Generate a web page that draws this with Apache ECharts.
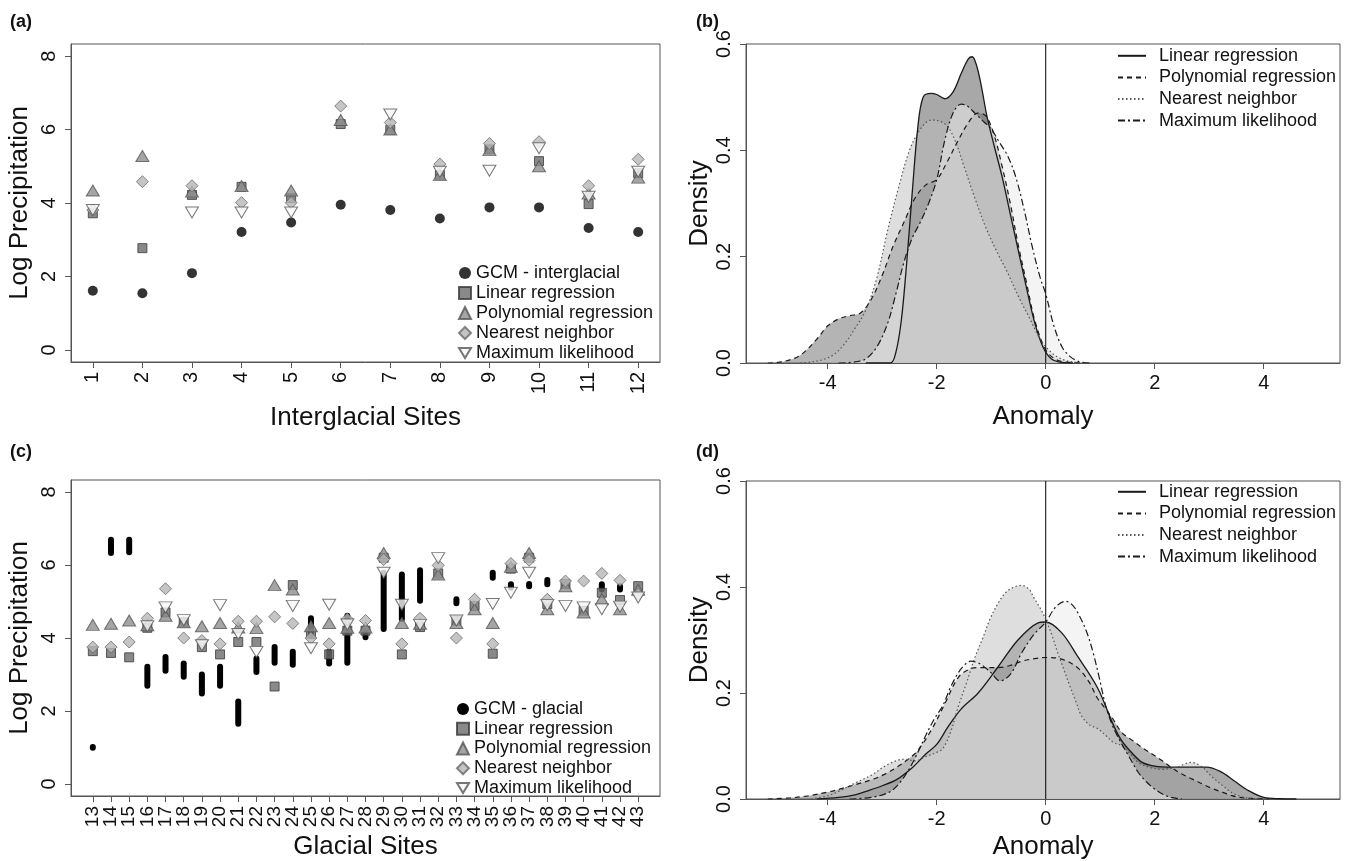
<!DOCTYPE html>
<html>
<head>
<meta charset="utf-8">
<script src="https://cdn.jsdelivr.net/npm/echarts@6/dist/echarts.min.js"></script>
<style>
html,body{margin:0;padding:0;background:#fff;}
#chart{width:1348px;height:861px;}
</style>
</head>
<body>
<div id="chart"></div>
<script>
// ---------- Panel (a): interglacial sites ----------
const sitesA = [1,2,3,4,5,6,7,8,9,10,11,12];
const gcmInter = [1.61,1.54,2.09,3.21,3.47,3.95,3.81,3.58,3.88,3.88,3.32,3.21];
const linA  = [3.72,2.77,4.22,4.44,4.13,6.15,5.99,4.76,5.46,5.14,3.97,4.81];
const polyA = [4.34,5.28,4.31,4.46,4.34,6.26,6.00,4.76,5.44,5.00,4.26,4.69];
const nnA   = [3.81,4.58,4.47,4.01,4.01,6.64,6.19,5.06,5.62,5.67,4.47,5.19];
const mlA   = [3.81,null,3.74,3.74,3.74,null,6.41,4.85,4.88,5.49,4.17,4.85];

// ---------- Panel (c): glacial sites ----------
const sitesC = [13,14,15,16,17,18,19,20,21,22,23,24,25,26,27,28,29,30,31,32,33,34,35,36,37,38,39,40,41,42,43];
const gcmLow  = [0.99,6.33,6.35,2.69,3.10,2.94,2.48,2.69,1.65,3.07,3.32,3.27,4.07,3.30,3.32,4.02,4.25,4.52,5.02,null,4.95,null,5.65,5.38,5.42,5.47,null,null,5.33,5.33,null];
const gcmHigh = [1.01,6.69,6.69,3.21,3.48,3.30,3.00,3.21,2.26,3.44,3.75,3.62,4.54,3.62,4.61,4.16,5.79,5.74,5.86,null,5.06,null,5.79,5.47,5.48,5.59,null,null,5.47,5.42,null];
const linC  = [3.64,3.59,3.47,4.28,4.70,4.43,3.75,3.55,3.89,3.89,2.67,5.45,4.11,3.55,4.20,4.20,6.20,3.55,4.30,5.77,4.48,4.88,3.57,5.90,6.20,4.93,5.48,4.75,5.24,5.04,5.42];
const polyC = [4.36,4.39,4.48,4.35,4.61,4.43,4.32,4.41,4.29,4.27,5.45,5.33,4.32,4.41,4.28,4.29,6.33,4.41,4.39,5.74,4.41,4.79,4.41,5.95,6.33,4.79,5.42,4.70,5.06,4.79,5.32];
const nnC   = [3.75,3.75,3.89,4.54,5.35,4.00,3.93,3.84,4.46,4.46,4.58,4.40,4.00,3.84,4.52,4.48,6.15,3.84,4.54,5.99,4.00,5.06,3.84,6.04,6.13,5.06,5.56,5.56,5.77,5.58,5.20];
const mlC   = [null,null,null,4.32,4.84,4.49,3.80,4.90,4.11,3.62,null,4.88,3.72,4.91,4.37,null,5.79,4.91,4.36,6.19,4.48,null,4.93,5.24,5.79,4.90,4.88,4.84,4.79,4.86,5.11];

// ---------- Panel (b): interglacial anomaly densities ----------
const bLinX  = [-3.3,-2.85,-2.75,-2.65,-2.55,-2.45,-2.35,-2.25,-2.1,-2.0,-1.85,-1.7,-1.55,-1.42,-1.35,-1.27,-1.18,-1.08,-0.95,-0.8,-0.65,-0.5,-0.35,-0.2,-0.05,0.1,0.3,0.5];
const bLinY  = [0,0,0.02,0.08,0.19,0.32,0.44,0.50,0.507,0.505,0.497,0.51,0.545,0.572,0.576,0.56,0.52,0.465,0.41,0.35,0.28,0.21,0.14,0.075,0.03,0.008,0.001,0];
const bPolyX = [-5.1,-4.8,-4.5,-4.2,-4.0,-3.8,-3.6,-3.4,-3.2,-3.0,-2.8,-2.6,-2.4,-2.2,-2.0,-1.8,-1.6,-1.4,-1.25,-1.1,-0.95,-0.8,-0.65,-0.5,-0.35,-0.2,0,0.2,0.45,0.7];
const bPolyY = [0,0.003,0.015,0.045,0.07,0.083,0.089,0.094,0.12,0.165,0.22,0.265,0.31,0.335,0.345,0.38,0.42,0.455,0.47,0.465,0.43,0.37,0.30,0.22,0.15,0.08,0.025,0.006,0.001,0];
const bNnX   = [-4.5,-4.3,-4.1,-3.9,-3.7,-3.5,-3.3,-3.1,-2.9,-2.7,-2.5,-2.3,-2.1,-1.95,-1.8,-1.65,-1.5,-1.3,-1.1,-0.9,-0.7,-0.5,-0.3,-0.1,0.1,0.3,0.5,0.7];
const bNnY   = [0,0.002,0.006,0.015,0.035,0.065,0.1,0.16,0.25,0.33,0.4,0.44,0.457,0.455,0.445,0.415,0.37,0.31,0.255,0.21,0.17,0.125,0.085,0.045,0.02,0.007,0.002,0];
const bMlX   = [-3.8,-3.5,-3.3,-3.1,-2.9,-2.75,-2.6,-2.45,-2.3,-2.15,-2.0,-1.85,-1.7,-1.55,-1.45,-1.3,-1.15,-1.0,-0.85,-0.7,-0.55,-0.4,-0.25,-0.1,0,0.15,0.3,0.45,0.6,0.8];
const bMlY   = [0,0.002,0.008,0.03,0.075,0.13,0.19,0.235,0.265,0.3,0.345,0.42,0.47,0.487,0.484,0.47,0.455,0.44,0.415,0.39,0.35,0.29,0.22,0.16,0.13,0.07,0.03,0.012,0.003,0];

// ---------- Panel (d): glacial anomaly densities ----------
const dLinX  = [-4.2,-3.8,-3.5,-3.25,-3.0,-2.73,-2.44,-2.2,-2.0,-1.8,-1.55,-1.24,-0.87,-0.51,-0.15,0,0.29,0.58,0.95,1.24,1.4,1.6,1.77,2.0,2.3,2.6,2.95,3.2,3.45,3.7,4.0,4.3,4.6];
const dLinY  = [0,0.003,0.008,0.016,0.025,0.037,0.06,0.085,0.103,0.135,0.17,0.2,0.25,0.30,0.332,0.334,0.314,0.27,0.21,0.14,0.109,0.085,0.069,0.062,0.06,0.06,0.06,0.052,0.035,0.017,0.003,0.0005,0];
const dPolyX = [-5.1,-4.7,-4.36,-4.0,-3.77,-3.5,-3.18,-2.95,-2.73,-2.55,-2.36,-2.1,-1.85,-1.6,-1.4,-1.24,-1.05,-0.87,-0.65,-0.44,-0.2,0,0.29,0.58,0.8,0.95,1.1,1.24,1.4,1.6,1.77,1.95,2.14,2.3,2.5,2.7,2.88,3.05,3.25,3.4,3.55,3.8,4.1];
const dPolyY = [0,0.002,0.006,0.013,0.019,0.027,0.037,0.047,0.06,0.073,0.09,0.13,0.18,0.23,0.245,0.248,0.248,0.248,0.252,0.26,0.265,0.267,0.264,0.248,0.22,0.19,0.17,0.15,0.125,0.11,0.097,0.085,0.072,0.06,0.047,0.037,0.028,0.02,0.0125,0.007,0.003,0.001,0];
const dNnX   = [-4.3,-4.0,-3.77,-3.5,-3.2,-2.9,-2.6,-2.4,-2.2,-2.0,-1.89,-1.75,-1.6,-1.45,-1.31,-1.15,-1.02,-0.87,-0.73,-0.58,-0.44,-0.3,-0.22,-0.1,0,0.11,0.22,0.33,0.44,0.55,0.65,0.8,0.95,1.1,1.24,1.4,1.55,1.7,1.9,2.14,2.4,2.66,2.85,3.03,3.25,3.47,3.77,4.0];
const dNnY   = [0,0.006,0.016,0.03,0.045,0.065,0.075,0.072,0.08,0.088,0.095,0.125,0.176,0.22,0.264,0.305,0.34,0.37,0.39,0.4,0.403,0.395,0.38,0.36,0.339,0.31,0.276,0.245,0.214,0.185,0.158,0.14,0.133,0.12,0.107,0.1,0.085,0.069,0.06,0.056,0.06,0.069,0.062,0.044,0.025,0.009,0.001,0];
const dMlX   = [-3.6,-3.2,-2.88,-2.7,-2.51,-2.36,-2.22,-2.05,-1.89,-1.75,-1.6,-1.48,-1.38,-1.27,-1.16,-1.0,-0.84,-0.65,-0.44,-0.22,0,0.18,0.36,0.5,0.65,0.77,0.87,0.98,1.09,1.2,1.31,1.5,1.7,1.85,2.0,2.15,2.3,2.5];
const dMlY   = [0,0.003,0.0125,0.028,0.056,0.085,0.116,0.15,0.176,0.21,0.239,0.254,0.26,0.258,0.252,0.238,0.223,0.235,0.276,0.31,0.334,0.362,0.373,0.365,0.339,0.31,0.276,0.23,0.18,0.145,0.12,0.085,0.05,0.032,0.019,0.009,0.003,0];

// tick labels
const yTicksPrecip = [0,2,4,6,8];
const yTicksDensity = [0,0.2,0.4,0.6];
const xTicksAnomaly = [-4,-2,0,2,4];
const refLineX = [0,0];
const refLineY = [0,0.6];
// (c) labels are split across two overlaid axes so ECharts does not drop crowded ones
const sitesCOdd  = sitesC.filter((s,i)=>i%2===0);
const sitesCEven = sitesC.filter((s,i)=>i%2===1);

const FONT = '"Liberation Sans", Arial, Helvetica, sans-serif';
const BOX = '#555';
const TXT = '#111';
const TITLE_SIZE = 26;

function pairs(xs, ys){ const out=[]; xs.forEach((x,i)=>{ if(ys[i]!==null && ys[i]!==undefined) out.push([x, ys[i]]); }); return out; }

const chart = echarts.init(document.getElementById('chart'), null, {renderer:'canvas'});

const grids = [
  {left:71,  top:44,  width:589, height:318},
  {left:746, top:44,  width:594, height:319},
  {left:71,  top:480, width:589, height:319},
  {left:746, top:481, width:594, height:319}
].map(g => Object.assign({show:true, borderColor:BOX, borderWidth:1, backgroundColor:'rgba(0,0,0,0)', containLabel:false}, g));

function precipY(idx){
  return {gridIndex:idx, type:'value', min:-0.33, max:8.33,
    axisLine:{show:true, onZero:false, lineStyle:{color:BOX}}, splitLine:{show:false},
    axisTick:{show:true, length:6, lineStyle:{color:BOX}, customValues:yTicksPrecip},
    axisLabel:{customValues:yTicksPrecip, rotate:90, fontSize:20, color:TXT, margin:12, fontFamily:FONT, showMinLabel:true, showMaxLabel:true},
    name:'Log Precipitation', nameLocation:'middle', nameRotate:90, nameGap:38,
    nameTextStyle:{fontSize:TITLE_SIZE, color:TXT, fontFamily:FONT}};
}
function densY(idx){
  return {gridIndex:idx, type:'value', min:0, max:0.6, interval:0.2,
    axisLine:{show:true, onZero:false, lineStyle:{color:BOX}}, splitLine:{show:false},
    axisTick:{show:true, length:6, lineStyle:{color:BOX}},
    axisLabel:{rotate:90, fontSize:20, color:TXT, margin:12, fontFamily:FONT, formatter:v=>v.toFixed(1), showMinLabel:true, showMaxLabel:true},
    name:'Density', nameLocation:'middle', nameRotate:90, nameGap:31,
    nameTextStyle:{fontSize:TITLE_SIZE, color:TXT, fontFamily:FONT}};
}
function anomX(idx, gap){
  return {gridIndex:idx, type:'value', min:-5.5, max:5.4,
    axisLine:{show:true, onZero:false, lineStyle:{color:BOX}}, splitLine:{show:false},
    axisTick:{show:true, length:6, lineStyle:{color:BOX}, customValues:xTicksAnomaly},
    axisLabel:{customValues:xTicksAnomaly, fontSize:20, color:TXT, margin:10, fontFamily:FONT},
    name:'Anomaly', nameLocation:'middle', nameGap:gap,
    nameTextStyle:{fontSize:TITLE_SIZE, color:TXT, fontFamily:FONT}};
}
const cLabel = {rotate:90, fontSize:19, color:TXT, margin:10, fontFamily:FONT, showMinLabel:true, showMaxLabel:true, hideOverlap:false};

const xAxes = [
  {gridIndex:0, type:'value', min:0.56, max:12.44,
    axisLine:{show:true, onZero:false, lineStyle:{color:BOX}}, splitLine:{show:false},
    axisTick:{show:true, length:6, lineStyle:{color:BOX}, customValues:sitesA},
    axisLabel:{customValues:sitesA, rotate:90, fontSize:20, color:TXT, margin:10, fontFamily:FONT, showMinLabel:true, showMaxLabel:true, hideOverlap:false},
    name:'Interglacial Sites', nameLocation:'middle', nameGap:43,
    nameTextStyle:{fontSize:TITLE_SIZE, color:TXT, fontFamily:FONT}},
  anomX(1, 41),
  {gridIndex:2, type:'value', position:'bottom', min:11.8, max:44.2,
    axisLine:{show:true, onZero:false, lineStyle:{color:BOX}}, splitLine:{show:false},
    axisTick:{show:true, length:6, lineStyle:{color:BOX}, customValues:sitesC},
    axisLabel:Object.assign({customValues:sitesCOdd}, cLabel),
    name:'Glacial Sites', nameLocation:'middle', nameGap:38,
    nameTextStyle:{fontSize:TITLE_SIZE, color:TXT, fontFamily:FONT}},
  anomX(3, 35),
  {gridIndex:2, type:'value', position:'bottom', offset:0, min:11.8, max:44.2,
    axisLine:{show:false, onZero:false}, splitLine:{show:false}, axisTick:{show:false},
    axisLabel:Object.assign({customValues:sitesCEven}, cLabel)}
];
const yAxes = [precipY(0), densY(1), precipY(2), densY(3)];

const SYM = {
  lin:  {symbol:'rect', symbolSize:9, itemStyle:{color:'#6b6b6b', borderColor:'#3a3a3a', borderWidth:1}},
  poly: {symbol:'triangle', symbolSize:[13,11], itemStyle:{color:'#8e8e8e', borderColor:'#555', borderWidth:1}},
  nn:   {symbol:'diamond', symbolSize:[12,12], itemStyle:{color:'#b7b7b7', borderColor:'#6a6a6a', borderWidth:1}},
  ml:   {symbol:'path://M0,0L12,0L6,10Z', symbolSize:[13,11], itemStyle:{color:'#f8f8f8', borderColor:'#555', borderWidth:1}}
};

function scatter(name, xi, xs, ys, sym){
  return Object.assign({type:'scatter', name:name, xAxisIndex:xi, yAxisIndex:xi, data:pairs(xs, ys), silent:true, animation:false}, JSON.parse(JSON.stringify(sym)));
}

const rangeData = [];
sitesC.forEach((s,i)=>{ if(gcmLow[i]!==null) rangeData.push([s, gcmLow[i], gcmHigh[i]]); });

const densStyle = {
  lin:  {line:{color:'#1a1a1a', width:1.3, type:'solid'}, area:'rgba(81,81,81,0.5)'},
  poly: {line:{color:'#1a1a1a', width:1.2, type:[5,4]}, area:'rgba(105,105,105,0.5)'},
  nn:   {line:{color:'#555', width:1.2, type:[1.5,2.5]}, area:'rgba(189,189,189,0.5)'},
  ml:   {line:{color:'#1a1a1a', width:1.2, type:[7,3,2,3]}, area:'rgba(235,235,235,0.55)'}
};
function dens(name, idx, xs, ys, st){
  return {type:'line', name:name, xAxisIndex:idx, yAxisIndex:idx, data:pairs(xs, ys), smooth:0.35,
    symbol:'none', showSymbol:false, silent:true, animation:false,
    lineStyle:st.line, itemStyle:{color:st.line.color}, areaStyle:{color:st.area, opacity:1}};
}
function refLine(idx){
  return {type:'line', name:'ref'+idx, xAxisIndex:idx, yAxisIndex:idx, data:pairs(refLineX, refLineY),
    symbol:'none', silent:true, animation:false, lineStyle:{color:'#000', width:1}};
}

const series = [
  // (a)
  scatter('GCM - interglacial', 0, sitesA, gcmInter, {symbol:'circle', symbolSize:10, itemStyle:{color:'#000'}}),
  scatter('Linear regression', 0, sitesA, linA, SYM.lin),
  scatter('Polynomial regression', 0, sitesA, polyA, SYM.poly),
  scatter('Nearest neighbor', 0, sitesA, nnA, SYM.nn),
  scatter('Maximum likelihood', 0, sitesA, mlA, SYM.ml),
  // (c)
  {type:'custom', name:'GCM - glacial', xAxisIndex:2, yAxisIndex:2, data:rangeData, silent:true, animation:false,
    encode:{x:0, y:[1,2]}, itemStyle:{color:'#000'},
    renderItem:function(params, api){
      const hi = api.coord([api.value(0), api.value(2)]);
      const lo = api.coord([api.value(0), api.value(1)]);
      const w = 6;
      return {type:'rect', shape:{x:hi[0]-w/2, y:hi[1]-w/2, width:w, height:(lo[1]-hi[1])+w, r:w/2}, style:{fill:'#000'}};
    }},
  scatter('Linear regression', 2, sitesC, linC, SYM.lin),
  scatter('Polynomial regression', 2, sitesC, polyC, SYM.poly),
  scatter('Nearest neighbor', 2, sitesC, nnC, SYM.nn),
  scatter('Maximum likelihood', 2, sitesC, mlC, SYM.ml),
  // (b)
  refLine(1),
  dens('Linear regression ', 1, bLinX, bLinY, densStyle.lin),
  dens('Polynomial regression ', 1, bPolyX, bPolyY, densStyle.poly),
  dens('Nearest neighbor ', 1, bNnX, bNnY, densStyle.nn),
  dens('Maximum likelihood ', 1, bMlX, bMlY, densStyle.ml),
  // (d)
  refLine(3),
  dens('Linear regression ', 3, dLinX, dLinY, densStyle.lin),
  dens('Polynomial regression ', 3, dPolyX, dPolyY, densStyle.poly),
  dens('Nearest neighbor ', 3, dNnX, dNnY, densStyle.nn),
  dens('Maximum likelihood ', 3, dMlX, dMlY, densStyle.ml)
];

const legText = {fontSize:18, lineHeight:18, color:TXT, fontFamily:FONT};
const densLegText = {fontSize:18, lineHeight:21.6, color:TXT, fontFamily:FONT, padding:[0,0,0,8]};
const hiddenSym = {color:'rgba(0,0,0,0)', borderWidth:0, opacity:0};
const legends = [
  {left:453, top:259, orient:'vertical', itemWidth:12, itemHeight:12, itemGap:2, textStyle:legText, selectedMode:false,
    data:['GCM - interglacial','Linear regression','Polynomial regression','Nearest neighbor','Maximum likelihood']},
  {left:451, top:695, orient:'vertical', itemWidth:12, itemHeight:12, itemGap:1.75, textStyle:legText, selectedMode:false,
    data:[{name:'GCM - glacial', icon:'circle', itemStyle:{color:'#000'}},'Linear regression','Polynomial regression','Nearest neighbor','Maximum likelihood']},
  {left:1112, top:40, orient:'vertical', itemWidth:28, itemHeight:10, itemGap:0, textStyle:densLegText, selectedMode:false, itemStyle:hiddenSym,
    data:['Linear regression ','Polynomial regression ','Nearest neighbor ','Maximum likelihood ']},
  {left:1112, top:476, orient:'vertical', itemWidth:28, itemHeight:10, itemGap:0, textStyle:densLegText, selectedMode:false, itemStyle:hiddenSym,
    data:['Linear regression ','Polynomial regression ','Nearest neighbor ','Maximum likelihood ']}
];

const panelFont = 'bold 18px ' + FONT;
const graphic = [
  {type:'text', left:10, top:13, style:{text:'(a)', font:panelFont, fill:TXT}},
  {type:'text', left:696, top:13, style:{text:'(b)', font:panelFont, fill:TXT}},
  {type:'text', left:10, top:443, style:{text:'(c)', font:panelFont, fill:TXT}},
  {type:'text', left:696, top:443, style:{text:'(d)', font:panelFont, fill:TXT}}
];

chart.setOption({
  animation:false,
  backgroundColor:'#fff',
  textStyle:{fontFamily:FONT},
  grid:grids, xAxis:xAxes, yAxis:yAxes, legend:legends, graphic:graphic, series:series
});
</script>
</body>
</html>
